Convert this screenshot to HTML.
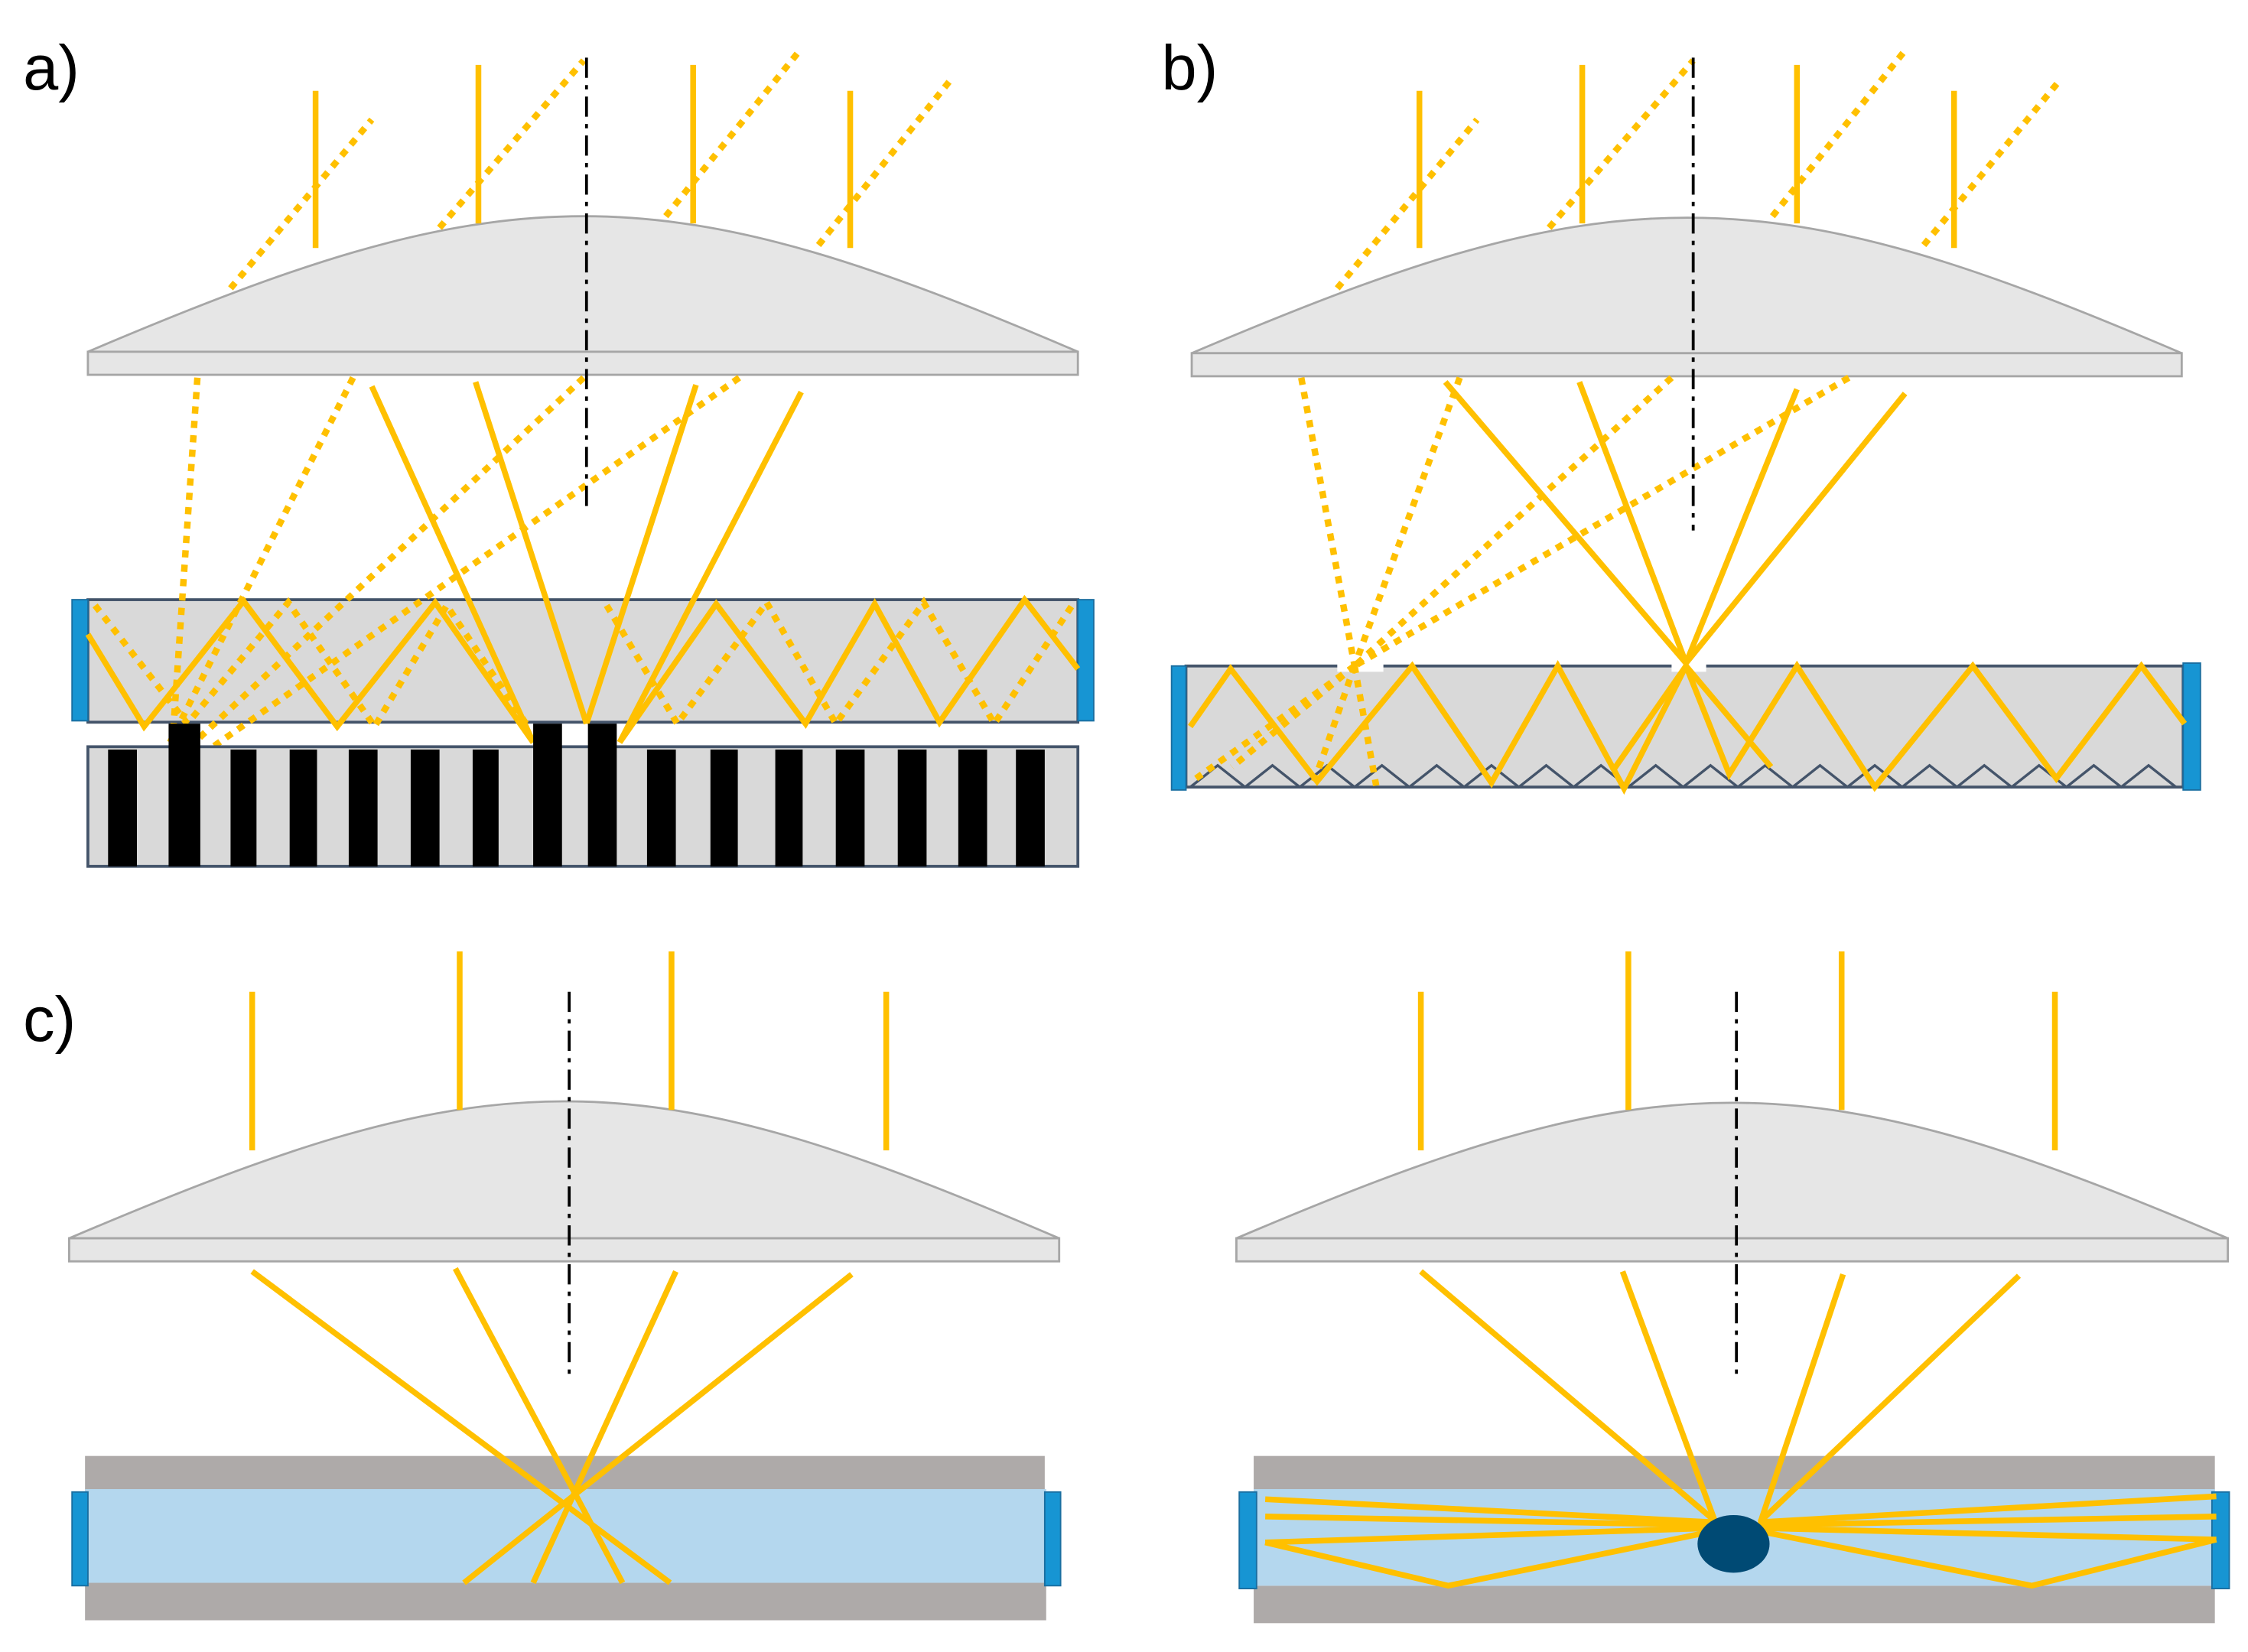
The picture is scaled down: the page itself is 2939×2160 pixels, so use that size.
<!DOCTYPE html>
<html><head><meta charset="utf-8"><style>html,body{margin:0;padding:0;background:#fff}svg{display:block}</style></head>
<body>
<svg width="2939" height="2160" viewBox="0 0 1560 1146" preserveAspectRatio="none" xmlns="http://www.w3.org/2000/svg">
<defs>
<style>
.y{stroke:#ffc000;stroke-width:4;fill:none;stroke-linejoin:miter}
.d{stroke:#ffc000;stroke-width:4.5;fill:none;stroke-dasharray:5 5}
.ax{stroke:#000;stroke-width:2;stroke-dasharray:14 5 3 5;fill:none}
.lens{fill:#e6e6e6;stroke:#a6a6a6;stroke-width:1.5}
.wg{fill:#d9d9d9;stroke:#44546a;stroke-width:2}
.cap{fill:#1795d3;stroke:#1a6ea0;stroke-width:1}
.lbl{font-family:"Liberation Sans",sans-serif;font-size:44px;fill:#000}
</style>
</defs>
<rect width="1560" height="1146" fill="#fff"/>

<!-- ===== a ===== -->
<text class="lbl" x="16" y="62">a)</text>
<path class="lens" d="M61,244 C200,185 300,150 405,150 C510,150 610,185 748,244 Z"/>
<rect class="lens" x="61" y="244" width="687" height="16"/>
<g class="y">
<line x1="219" y1="63" x2="219" y2="172"/><line x1="332" y1="45" x2="332" y2="155"/>
<line x1="481" y1="45" x2="481" y2="155"/><line x1="590" y1="63" x2="590" y2="172"/>
</g>
<g class="d">
<line x1="160" y1="200" x2="258" y2="83"/><line x1="305" y1="158" x2="405" y2="42"/>
<line x1="462" y1="150" x2="555" y2="35"/><line x1="568" y1="170" x2="660" y2="55"/>
</g>
<rect class="wg" x="61" y="416" width="687" height="85"/>
<rect class="cap" x="50" y="416" width="11" height="84"/><rect class="cap" x="748" y="416" width="11" height="84"/>
<g class="d">
<line x1="137" y1="262" x2="120" y2="510"/><line x1="245" y1="262" x2="118" y2="515"/>
<line x1="405" y1="262" x2="135" y2="515"/><line x1="513" y1="262" x2="145" y2="520"/>
<polyline points="66,420 130,502 200,418 260,504 310,420 365,502"/>
<polyline points="421,420 470,502 532,418 580,502 641,418 690,502 744,420"/>
</g>
<g class="y">
<line x1="258" y1="268" x2="370" y2="515"/><line x1="330" y1="265" x2="407" y2="502"/>
<line x1="483" y1="267" x2="407" y2="502"/><line x1="556" y1="272" x2="430" y2="515"/>
<polyline points="61,440 100,504 169,417 234,504 302,418 370,515"/>
<polyline points="430,515 497,419 559,502 607,419 652,501 711,416 748,464"/>
</g>
<rect class="wg" x="61" y="518" width="687" height="83"/>
<g fill="#000">
<rect x="75" y="520" width="20" height="81"/><rect x="117" y="502" width="22" height="99"/>
<rect x="160" y="520" width="18" height="81"/><rect x="201" y="520" width="19" height="81"/>
<rect x="242" y="520" width="20" height="81"/><rect x="285" y="520" width="20" height="81"/>
<rect x="328" y="520" width="18" height="81"/><rect x="370" y="502" width="20" height="99"/>
<rect x="408" y="502" width="20" height="99"/><rect x="449" y="520" width="20" height="81"/>
<rect x="493" y="520" width="19" height="81"/><rect x="538" y="520" width="19" height="81"/>
<rect x="580" y="520" width="20" height="81"/><rect x="623" y="520" width="20" height="81"/>
<rect x="665" y="520" width="20" height="81"/><rect x="705" y="520" width="20" height="81"/>
</g>
<line class="ax" x1="407" y1="40" x2="407" y2="355"/>

<!-- ===== b ===== -->
<text class="lbl" x="806" y="62">b)</text>
<path class="lens" d="M827,245 C966,186 1066,151 1171,151 C1276,151 1376,186 1514,245 Z"/>
<rect class="lens" x="827" y="245" width="687" height="16"/>
<g class="y">
<line x1="985" y1="63" x2="985" y2="172"/><line x1="1098" y1="45" x2="1098" y2="155"/>
<line x1="1247" y1="45" x2="1247" y2="155"/><line x1="1356" y1="63" x2="1356" y2="172"/>
</g>
<g class="d">
<line x1="928" y1="200" x2="1025" y2="83"/><line x1="1075" y1="158" x2="1175" y2="42"/>
<line x1="1230" y1="150" x2="1322" y2="35"/><line x1="1335" y1="170" x2="1430" y2="55"/>
</g>
<rect class="wg" x="823" y="462" width="692" height="84"/>
<rect x="928" y="458" width="32" height="8" fill="#fff"/><rect x="1160" y="458" width="24" height="8" fill="#fff"/>
<polyline points="826,546 845,531 864,546 883,531 902,546 921,531 940,546 959,531 978,546 997,531 1016,546 1035,531 1054,546 1073,531 1092,546 1111,531 1130,546 1149,531 1168,546 1187,531 1206,546 1225,531 1244,546 1263,531 1282,546 1301,531 1320,546 1339,531 1358,546 1377,531 1396,546 1415,531 1434,546 1453,531 1472,546 1491,531 1510,546" fill="none" stroke="#44546a" stroke-width="1.8"/>
<rect class="cap" x="813" y="462" width="10" height="86"/><rect class="cap" x="1515" y="460" width="12" height="88"/>
<g class="d">
<line x1="903" y1="262" x2="940" y2="462"/><line x1="1013" y1="262" x2="940" y2="462"/>
<line x1="1160" y1="262" x2="940" y2="462"/><line x1="1283" y1="262" x2="940" y2="462"/>
<line x1="940" y1="462" x2="830" y2="540"/><line x1="940" y1="462" x2="855" y2="532"/>
<line x1="940" y1="462" x2="912" y2="542"/><line x1="940" y1="462" x2="955" y2="545"/>
</g>
<g class="y">
<line x1="1003" y1="265" x2="1170" y2="460"/><line x1="1096" y1="265" x2="1170" y2="460"/>
<line x1="1247" y1="270" x2="1170" y2="460"/><line x1="1322" y1="273" x2="1170" y2="460"/>
<polyline points="826,504 854,464 914,542 980,462 1035,543 1081,462 1127,547 1170,462 1200,537 1247,462 1301,546 1369,462 1427,540 1486,462 1516,502"/>
<line x1="1170" y1="462" x2="1119" y2="535"/><line x1="1170" y1="462" x2="1229" y2="532"/>
</g>
<line class="ax" x1="1175" y1="40" x2="1175" y2="368"/>

<!-- ===== c ===== -->
<text class="lbl" x="16" y="722">c)</text>
<path class="lens" d="M48,859 C187,800 287,764 392,764 C497,764 597,800 735,859 Z"/>
<rect class="lens" x="48" y="859" width="687" height="16"/>
<g class="y">
<line x1="175" y1="688" x2="175" y2="798"/><line x1="319" y1="660" x2="319" y2="770"/>
<line x1="466" y1="660" x2="466" y2="770"/><line x1="615" y1="688" x2="615" y2="798"/>
</g>
<rect x="59" y="1010" width="666" height="24" fill="#aeaaa9"/>
<rect x="59" y="1098" width="667" height="26" fill="#aeaaa9"/>
<rect x="59" y="1033" width="667" height="65" fill="#b4d7ee"/>
<rect class="cap" x="50" y="1035" width="11" height="65"/><rect class="cap" x="725" y="1035" width="11" height="65"/>
<g class="y">
<line x1="175" y1="882" x2="465" y2="1098"/><line x1="316" y1="880" x2="432" y2="1098"/>
<line x1="469" y1="882" x2="370" y2="1098"/><line x1="591" y1="884" x2="322" y2="1098"/>
</g>
<line class="ax" x1="395" y1="688" x2="395" y2="958"/>

<!-- ===== d ===== -->
<path class="lens" d="M858,859 C997,800 1097,765 1202,765 C1307,765 1407,800 1546,859 Z"/>
<rect class="lens" x="858" y="859" width="688" height="16"/>
<g class="y">
<line x1="986" y1="688" x2="986" y2="798"/><line x1="1130" y1="660" x2="1130" y2="770"/>
<line x1="1278" y1="660" x2="1278" y2="770"/><line x1="1426" y1="688" x2="1426" y2="798"/>
</g>
<rect x="870" y="1010" width="667" height="24" fill="#aeaaa9"/>
<rect x="870" y="1100" width="667" height="26" fill="#aeaaa9"/>
<rect x="870" y="1033" width="667" height="67" fill="#b4d7ee"/>
<rect class="cap" x="860" y="1035" width="12" height="67"/><rect class="cap" x="1535" y="1035" width="12" height="67"/>
<g class="y">
<line x1="986" y1="882" x2="1190" y2="1055"/><line x1="1126" y1="882" x2="1190" y2="1055"/>
<line x1="1279" y1="884" x2="1222" y2="1055"/><line x1="1401" y1="885" x2="1222" y2="1055"/>
<line x1="1190" y1="1056" x2="878" y2="1040"/><line x1="1190" y1="1058" x2="878" y2="1052"/>
<line x1="1190" y1="1060" x2="878" y2="1070"/>
<polyline points="878,1070 1005,1100 1190,1062"/>
<line x1="1220" y1="1056" x2="1538" y2="1038"/><line x1="1220" y1="1058" x2="1538" y2="1052"/>
<line x1="1220" y1="1060" x2="1538" y2="1068"/>
<polyline points="1538,1068 1410,1100 1220,1062"/>
</g>
<ellipse cx="1203" cy="1071" rx="25" ry="20" fill="#004a74"/>
<line class="ax" x1="1205" y1="688" x2="1205" y2="958"/>
</svg>
</body></html>
